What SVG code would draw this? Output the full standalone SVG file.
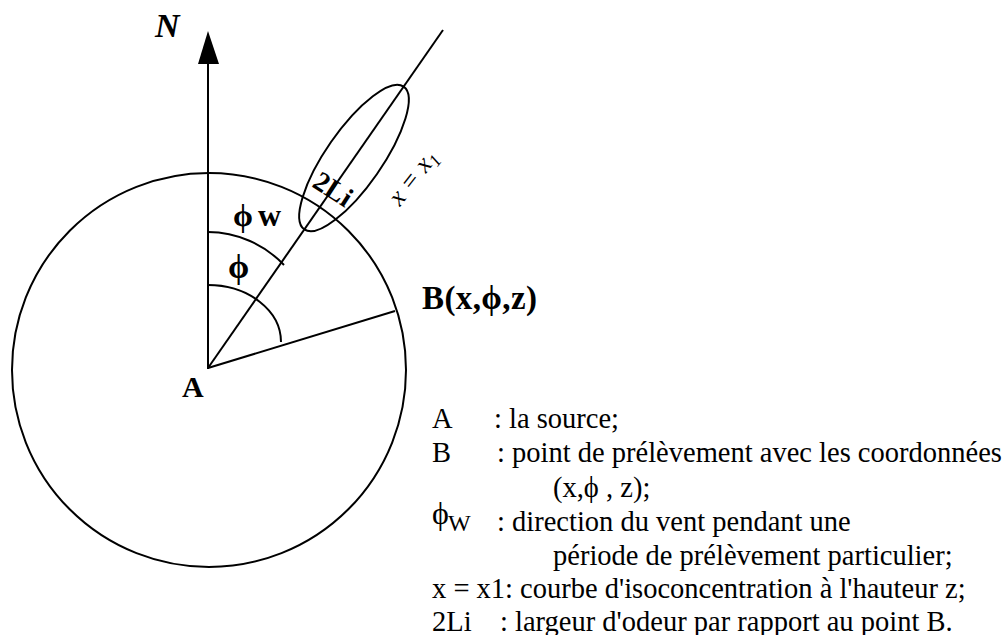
<svg xmlns="http://www.w3.org/2000/svg" width="1007" height="635" viewBox="0 0 1007 635">
<style>
.ln{fill:none;stroke:#000;stroke-width:2}
.lb{font-family:"Liberation Serif","DejaVu Serif",serif;font-weight:bold;fill:#000}
.it{font-family:"Liberation Serif","DejaVu Serif",serif;font-style:italic;fill:#000}
.lg{font-family:"Liberation Serif","DejaVu Serif",serif;font-size:28.5px;fill:#000}
</style>
<rect width="1007" height="635" fill="#fff"/>
<g id="circle"><circle class="ln" cx="209" cy="370" r="197"/></g>
<g id="connectors">
<line class="ln" x1="208" y1="369" x2="208" y2="60"/>
<polygon points="208,31 198,64 219,64" fill="#000"/>
<line class="ln" x1="208" y1="368" x2="443" y2="30"/>
<line class="ln" x1="208" y1="368" x2="395" y2="311"/>
<path class="ln" d="M208,232 A105.5,105.5 0 0 1 284,265"/>
<path class="ln" d="M208,285 A73,57 0 0 1 281,342"/>
</g>
<g id="isocurve"><ellipse class="ln" cx="354" cy="158" rx="28" ry="87" transform="rotate(34.8 354 158)"/></g>
<g id="labels">
<text class="lb" x="155" y="37" font-size="34" font-style="italic">N</text>
<text class="lb" x="233" y="226" font-size="32">ϕ<tspan dx="5">w</tspan></text>
<text class="lb" x="228" y="278" font-size="34">ϕ</text>
<text class="lb" x="182" y="397" font-size="30">A</text>
<text class="lb" x="422" y="309" font-size="33" textLength="115" lengthAdjust="spacing">B(x,ϕ,z)</text>
<text class="lb" x="311" y="186" font-size="28" transform="rotate(33 311 186)">2Li</text>
<text class="it" x="400" y="207" font-size="26" transform="rotate(-52 400 207)">x = x<tspan font-size="18" dy="5">1</tspan></text>
</g>
<g id="legend" class="lg">
<text x="432" y="428">A</text><text x="494" y="428">: la source;</text>
<text x="432" y="462">B</text><text x="497" y="462">: point de prélèvement avec les coordonnées</text>
<text x="553" y="497">(x,ϕ , z);</text>
<text x="432" y="524" font-size="32">ϕ</text><text x="448" y="531" font-size="24">W</text><text x="497" y="531">: direction du vent pendant une</text>
<text x="553" y="565">période de prélèvement particulier;</text>
<text x="432" y="598">x = x1: courbe d'isoconcentration à l'hauteur z;</text>
<text x="432" y="631">2Li</text><text x="500" y="631">: largeur d'odeur par rapport au point B.</text>
</g>
</svg>
